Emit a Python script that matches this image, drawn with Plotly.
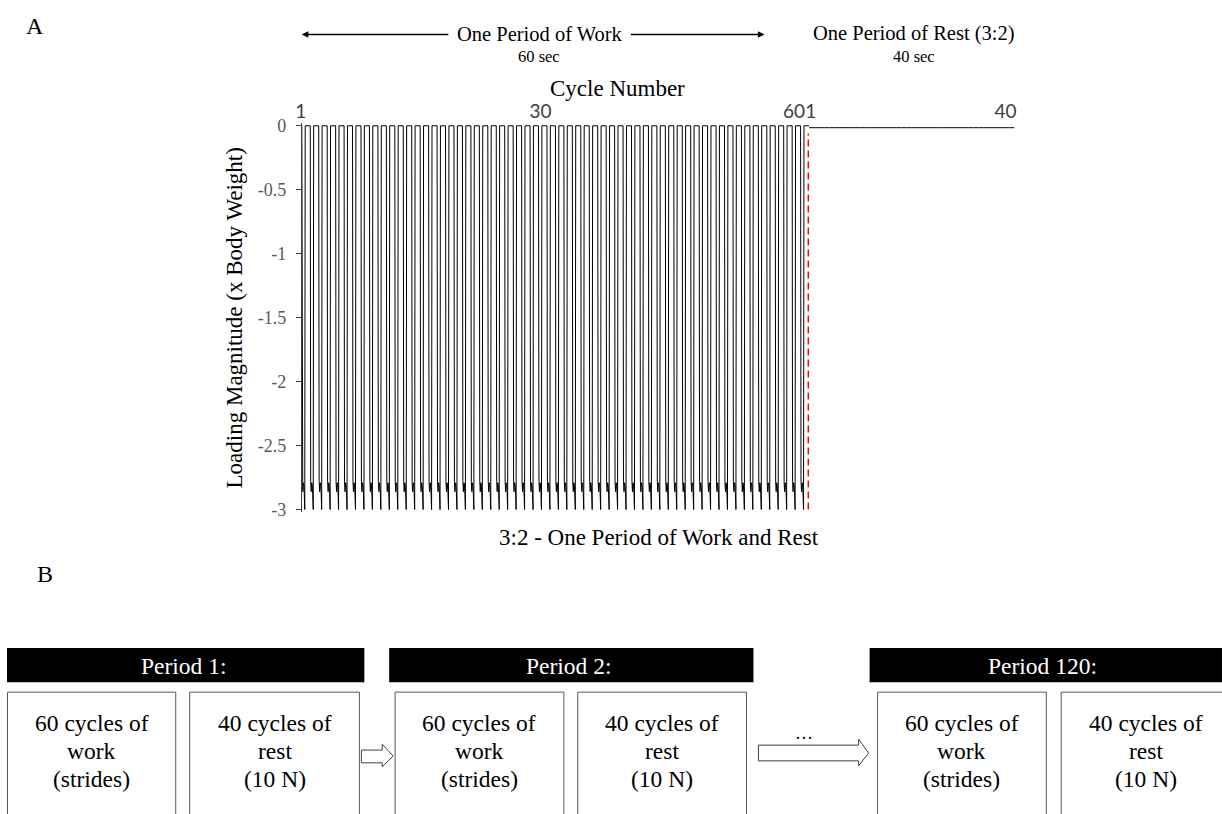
import plotly.graph_objects as go

# ---- data -------------------------------------------------------------
# one stride (loading profile within a single work cycle), phase 0..1
stride_phase = [0.00, 0.05, 0.11, 0.17, 0.23, 0.29, 0.35, 0.40, 1.00]
stride_load = [0.00, -2.78, -2.86, -2.79, -2.80, -2.88, -3.00, 0.00, 0.00]

work_cycles = list(range(1, 61))          # 60 cycles of work
rest_cycles = list(range(1, 41))          # 40 cycles of rest
rest_load = [-0.015] * 40                 # 10 N rest load (x body weight)

work_ticks = [1, 30, 60]
rest_ticks = [1, 40]
y_ticks = [0, -0.5, -1, -1.5, -2, -2.5, -3]
y_ticktext = ["0", "-0.5", "-1", "-1.5", "-2", "-2.5", "-3"]

period_titles = ["Period 1:", "Period 2:", "Period 120:"]
work_box_lines = ["60 cycles of", "work", "(strides)"]
rest_box_lines = ["40 cycles of", "rest", "(10 N)"]

# ---- page geometry helpers -------------------------------------------------
W, H = 1222, 814
SERIF = "Liberation Serif"
SANS = "Lato"


def px(x):
    return x / W


def py(y):
    return 1 - y / H


# build the work waveform by repeating the stride for every cycle
work_x, work_y = [], []
for k in work_cycles:
    for p, v in zip(stride_phase, stride_load):
        work_x.append(k - 1 + p)
        work_y.append(v)

# rest drawn as a step series, one value per cycle
rest_x = [c - 1 for c in rest_cycles] + [rest_cycles[-1]]
rest_y = rest_load + [rest_load[-1]]

fig = go.Figure()
fig.add_trace(go.Scatter(x=work_x, y=work_y, mode="lines",
                         line=dict(color="black", width=1),
                         xaxis="x", yaxis="y", showlegend=False,
                         hoverinfo="skip"))
fig.add_trace(go.Scatter(x=rest_x, y=rest_y, mode="lines", line_shape="hv",
                         line=dict(color="black", width=1),
                         xaxis="x2", yaxis="y", showlegend=False,
                         hoverinfo="skip"))

# y scale: 0 at 121 px, -3 at 512 px (slight padding so lines are not clipped)
pad = 0.02
unit = (512 - 121) / 3.0
y_top = 121 - pad * unit
y_bot = 512 + pad * unit

top_font = dict(family=SANS, size=19, color="#404040")

fig.update_layout(
    width=W, height=H,
    margin=dict(l=0, r=0, t=0, b=0),
    paper_bgcolor="white", plot_bgcolor="white",
    xaxis=dict(domain=[px(297), px(808)], range=[0, 60], side="top",
               anchor="y", tickvals=work_ticks, ticktext=[str(t) for t in work_ticks],
               ticklabelposition="outside left", ticklabelshift=-4, ticks="",
               showline=False, showgrid=False, zeroline=False,
               tickfont=top_font, ticklen=0),
    xaxis2=dict(domain=[px(808), px(1015)], range=[0, 40], side="top",
                anchor="y", tickvals=rest_ticks, ticktext=[str(t) for t in rest_ticks],
                ticklabelposition="outside left", ticklabelshift=2, ticks="",
                showline=False, showgrid=False, zeroline=False,
                tickfont=top_font, ticklen=0),
    yaxis=dict(domain=[py(y_bot), py(y_top)], range=[-3 - pad, pad],
               tickvals=y_ticks, ticktext=y_ticktext, showgrid=False,
               zeroline=False, showline=True, linecolor="#404040", linewidth=1,
               ticks="outside", ticklen=5, tickcolor="#404040",
               ticklabelstandoff=6,
               tickfont=dict(family=SERIF, size=18, color="#595959")),
)

# boundary between work and rest
fig.add_shape(type="line", xref="x", yref="y",
              x0=work_cycles[-1], x1=work_cycles[-1], y0=-3, y1=-0.06,
              line=dict(color="red", width=3, dash="7px,4px"), layer="above")

ann = []


def text(x, y, s, size, color="black", **kw):
    ann.append(dict(x=px(x), y=py(y), xref="paper", yref="paper", text=s,
                    showarrow=False, font=dict(family=SERIF, size=size, color=color),
                    xanchor=kw.pop("xanchor", "center"), yanchor=kw.pop("yanchor", "middle"),
                    **kw))


# panel A labels
text(28, 19, "A", 24)
text(537, 27, "One Period of Work", 20.5)
text(536, 50, "60 sec", 16.5)
text(914, 27, "One Period of Rest (3:2)", 20.5)
text(914, 50, "40 sec", 16.5)
text(615, 83, "Cycle Number", 23)
text(229, 317, "Loading Magnitude (x Body Weight)", 23, textangle=-90)
text(657, 540, "3:2 - One Period of Work and Rest", 23)
text(38, 578, "B", 24)

# arrows around the period heading
ann.append(dict(x=px(297), y=py(28), xref="paper", yref="paper", ax=148, ay=0,
                showarrow=True, arrowhead=2, arrowsize=1, arrowwidth=1.3,
                arrowcolor="black", text=""))
ann.append(dict(x=px(763), y=py(28), xref="paper", yref="paper", ax=-135, ay=0,
                showarrow=True, arrowhead=2, arrowsize=1, arrowwidth=1.3,
                arrowcolor="black", text=""))

# ---- panel B: schematic of periods ------------------------------------------
bars = [(0, 360), (385, 752), (869, 1224)]
for (x0, x1), title in zip(bars, period_titles):
    fig.add_shape(type="rect", xref="paper", yref="paper",
                  x0=px(x0), x1=px(x1), y0=py(688), y1=py(653),
                  fillcolor="black", line=dict(width=0))
    text((x0 + min(x1, 1222)) / 2 - 2, 671, title, 23.5, color="white")

boxes = [(0.5, 170, work_box_lines), (184, 355, rest_box_lines),
         (391, 561, work_box_lines), (575, 745, rest_box_lines),
         (877, 1047, work_box_lines), (1062, 1240, rest_box_lines)]
for x0, x1, lines in boxes:
    fig.add_shape(type="rect", xref="paper", yref="paper",
                  x0=px(x0), x1=px(x1), y0=py(830), y1=py(698),
                  fillcolor="white", line=dict(color="#595959", width=1))
    cx = (x0 + x1) / 2 if x1 <= W else 1147
    for i, s in enumerate(lines):
        text(cx, 729 + i * 28.5, s, 23.5)


def block_arrow(x0, x_head, x_tip, sy0, sy1, hy0, hy1, tip_y):
    pts = [(x0, sy0), (x_head, sy0), (x_head, hy0), (x_tip, tip_y),
           (x_head, hy1), (x_head, sy1), (x0, sy1)]
    path = "M " + " L ".join(f"{px(a):.5f},{py(b):.5f}" for a, b in pts) + " Z"
    fig.add_shape(type="path", xref="paper", yref="paper", path=path,
                  fillcolor="white", line=dict(color="#404040", width=1))


block_arrow(357, 378, 389, 757, 770, 751, 774, 763)
block_arrow(757, 858, 868, 752, 768, 746, 773, 760)
text(803, 740, "…", 18)

fig.update_layout(annotations=ann)
fig.write_html("out.html")
